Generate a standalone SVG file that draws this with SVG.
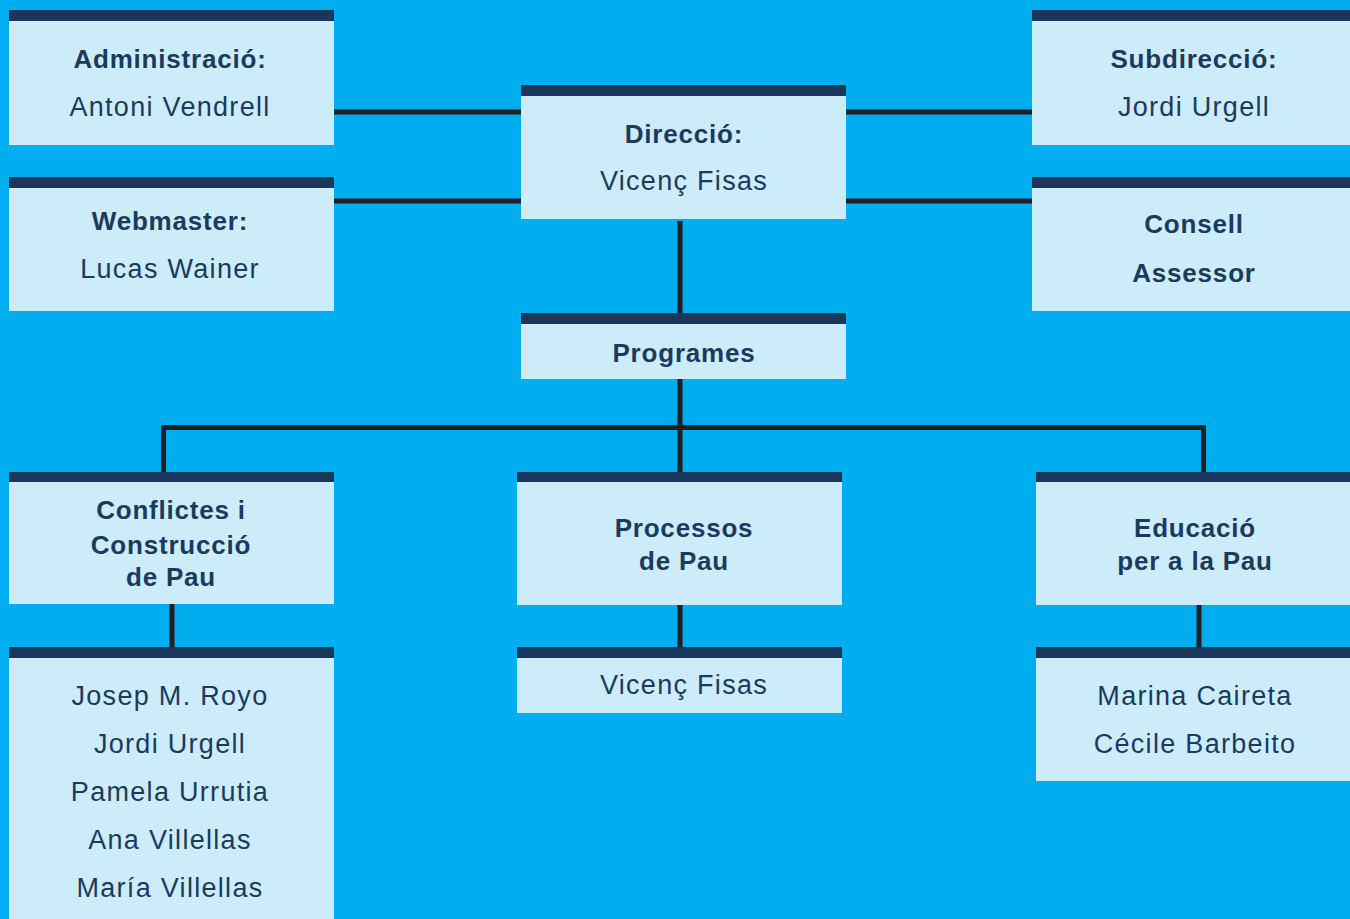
<svg xmlns="http://www.w3.org/2000/svg" width="1350" height="919" viewBox="0 0 1350 919">
<style>
.bg{fill:#00AEEF}
.body{fill:#CCECF9}
.bar{fill:#18375B}
.ln{stroke:#231F20;stroke-width:5;fill:none}
text{font-family:"Liberation Sans",Arial,sans-serif;fill:#1B3A5E;text-anchor:middle}
.b{font-weight:bold;font-size:26px;letter-spacing:0.8px}
.r{font-size:27px;letter-spacing:1.3px}
</style>
<rect class="bg" x="0" y="0" width="1350" height="919"/>
<g id="connectors">
<line class="ln" x1="334" y1="112" x2="521" y2="112"/>
<line class="ln" x1="334" y1="201" x2="521" y2="201"/>
<line class="ln" x1="846" y1="112" x2="1032" y2="112"/>
<line class="ln" x1="846" y1="201" x2="1032" y2="201"/>
<line class="ln" x1="680" y1="221" x2="680" y2="313"/>
<line class="ln" x1="680" y1="379" x2="680" y2="472"/>
<polyline class="ln" points="163.5,472 163.5,427.5 1203.5,427.5 1203.5,472"/>
<line class="ln" x1="172" y1="604" x2="172" y2="647"/>
<line class="ln" x1="680" y1="605" x2="680" y2="647"/>
<line class="ln" x1="1199" y1="605" x2="1199" y2="647"/>
</g>
<g id="administracio">
<rect class="body" x="9" y="10" width="325" height="135"/>
<rect class="bar" x="9" y="10" width="325" height="11"/>
<text class="b" x="170" y="68">Administració:</text>
<text class="r" x="170" y="116">Antoni Vendrell</text>
</g>
<g id="webmaster">
<rect class="body" x="9" y="177" width="325" height="134"/>
<rect class="bar" x="9" y="177" width="325" height="11"/>
<text class="b" x="170" y="230">Webmaster:</text>
<text class="r" x="170" y="278">Lucas Wainer</text>
</g>
<g id="direccio">
<rect class="body" x="521" y="85" width="325" height="134"/>
<rect class="bar" x="521" y="85" width="325" height="11"/>
<text class="b" x="684" y="143">Direcció:</text>
<text class="r" x="684" y="190">Vicenç Fisas</text>
</g>
<g id="subdireccio">
<rect class="body" x="1032" y="10" width="318" height="135"/>
<rect class="bar" x="1032" y="10" width="318" height="11"/>
<text class="b" x="1194" y="68">Subdirecció:</text>
<text class="r" x="1194" y="116">Jordi Urgell</text>
</g>
<g id="consell">
<rect class="body" x="1032" y="177" width="318" height="134"/>
<rect class="bar" x="1032" y="177" width="318" height="11"/>
<text class="b" x="1194" y="233">Consell</text>
<text class="b" x="1194" y="282">Assessor</text>
</g>
<g id="programes">
<rect class="body" x="521" y="313" width="325" height="66"/>
<rect class="bar" x="521" y="313" width="325" height="11"/>
<text class="b" x="684" y="362">Programes</text>
</g>
<g id="conflictes">
<rect class="body" x="9" y="472" width="325" height="132"/>
<rect class="bar" x="9" y="472" width="325" height="10"/>
<text class="b" x="171" y="519">Conflictes i</text>
<text class="b" x="171" y="554">Construcció</text>
<text class="b" x="171" y="586">de Pau</text>
</g>
<g id="processos">
<rect class="body" x="517" y="472" width="325" height="133"/>
<rect class="bar" x="517" y="472" width="325" height="10"/>
<text class="b" x="684" y="537">Processos</text>
<text class="b" x="684" y="570">de Pau</text>
</g>
<g id="educacio">
<rect class="body" x="1036" y="472" width="314" height="133"/>
<rect class="bar" x="1036" y="472" width="314" height="10"/>
<text class="b" x="1195" y="537">Educació</text>
<text class="b" x="1195" y="570">per a la Pau</text>
</g>
<g id="conflictes-members">
<rect class="body" x="9" y="647" width="325" height="272"/>
<rect class="bar" x="9" y="647" width="325" height="11"/>
<text class="r" x="170" y="705">Josep M. Royo</text>
<text class="r" x="170" y="753">Jordi Urgell</text>
<text class="r" x="170" y="801">Pamela Urrutia</text>
<text class="r" x="170" y="849">Ana Villellas</text>
<text class="r" x="170" y="897">María Villellas</text>
</g>
<g id="processos-members">
<rect class="body" x="517" y="647" width="325" height="66"/>
<rect class="bar" x="517" y="647" width="325" height="11"/>
<text class="r" x="684" y="694">Vicenç Fisas</text>
</g>
<g id="educacio-members">
<rect class="body" x="1036" y="647" width="314" height="134"/>
<rect class="bar" x="1036" y="647" width="314" height="11"/>
<text class="r" x="1195" y="705">Marina Caireta</text>
<text class="r" x="1195" y="753">Cécile Barbeito</text>
</g>
</svg>
